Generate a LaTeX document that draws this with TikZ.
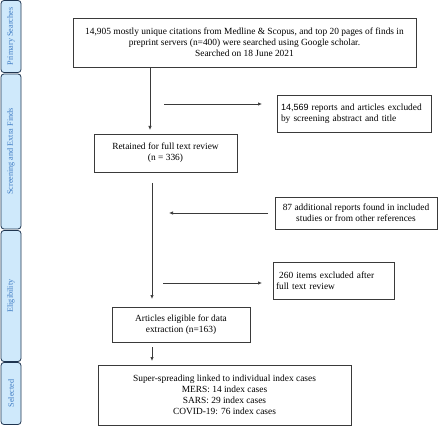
\documentclass[tikz,border=0pt]{standalone}
\usepackage{fontspec}
\setmainfont{Liberation Serif}
\setsansfont{Liberation Sans}
\usetikzlibrary{arrows.meta}
\definecolor{tabfill}{HTML}{CFE9FB}
\definecolor{tabtext}{HTML}{3F7CC4}
\definecolor{tabdraw}{HTML}{1F3550}
\definecolor{linec}{HTML}{3A3A3A}
\begin{document}
\begin{tikzpicture}[x=1pt,y=-1pt,
  tab/.style={draw=tabdraw, fill=tabfill, rounded corners=3pt, line width=0.8pt,
    text=tabtext, font=\fontsize{8.2}{9}\selectfont, rotate=90, inner sep=0pt, anchor=center},
  box/.style={draw=linec, line width=0.7pt, inner sep=2pt, font=\fontsize{9.4}{10.8}\selectfont, anchor=center},
  conn/.style={draw=linec, line width=0.7pt},
  arr/.style={conn, -{Latex[length=4pt,width=3.4pt]}}]
\useasboundingbox (0,0) rectangle (440,428);
% side tabs
\node[tab, minimum width=72pt, minimum height=20pt] (t1) at (11,36.5) {Primary Searches};
\node[tab, minimum width=155pt, minimum height=20pt] (t2) at (11,151.5) {Screening and Extra Finds};
\node[tab, minimum width=131pt, minimum height=20pt] (t3) at (11,296) {Eligibility};
\node[tab, minimum width=62pt, minimum height=20pt] (t4) at (11,393.5) {Selected};
% boxes
\node[box, minimum width=343pt, minimum height=49pt, align=center] (b1) at (244.5,42.5)
  {14,905 mostly unique citations from Medline \& Scopus, and top 20 pages of finds in\\
   preprint servers (n=400) were searched using Google scholar.\\
   Searched on 18 June 2021};
\node[box, minimum width=143pt, minimum height=38pt, align=center] (b2) at (165.5,153)
  {Retained for full text review\\(n = 336)};
\node[box, minimum width=154pt, minimum height=37pt, text width=146pt, align=left] (ex) at (354,113.5)
  {{\sffamily\fontsize{9}{10.8}\selectfont 14,569} reports and articles excluded\\by screening abstract and title};
\node[box, minimum width=162pt, minimum height=32pt, align=center] (ad) at (356,213)
  {87 additional reports found in included\\studies or from other references};
\node[box, minimum width=121pt, minimum height=37pt, text width=115pt, align=left] (ft) at (333.5,280.5)
  {\ 260 items excluded after\\full text review};
\node[box, minimum width=138pt, minimum height=35pt, align=center] (b3) at (181,324.5)
  {Articles eligible for data\\extraction (n=163)};
\node[box, minimum width=253pt, minimum height=60pt, align=center] (b4) at (224.5,395)
  {Super-spreading linked to individual index cases\\MERS: 14 index cases\\SARS: 29 index cases\\COVID-19: 76 index cases};
% connector coordinates
\coordinate (v1s) at (150,67);
\coordinate (v1e) at (150,130);
\coordinate (h1s) at (164,104);
\coordinate (h1e) at (262,104);
\coordinate (v2s) at (152,183);
\coordinate (v2e) at (152,299);
\coordinate (h2s) at (268,213);
\coordinate (h2e) at (169,213);
\coordinate (h3s) at (163,283);
\coordinate (h3e) at (262,283);
\coordinate (v3s) at (152,347);
\coordinate (v3e) at (152,361);
\draw[arr] (v1s) -- (v1e);
\draw[arr] (h1s) -- (h1e);
\draw[arr] (v2s) -- (v2e);
\draw[arr] (h2s) -- (h2e);
\draw[arr] (h3s) -- (h3e);
\draw[arr] (v3s) -- (v3e);
\end{tikzpicture}
\end{document}
